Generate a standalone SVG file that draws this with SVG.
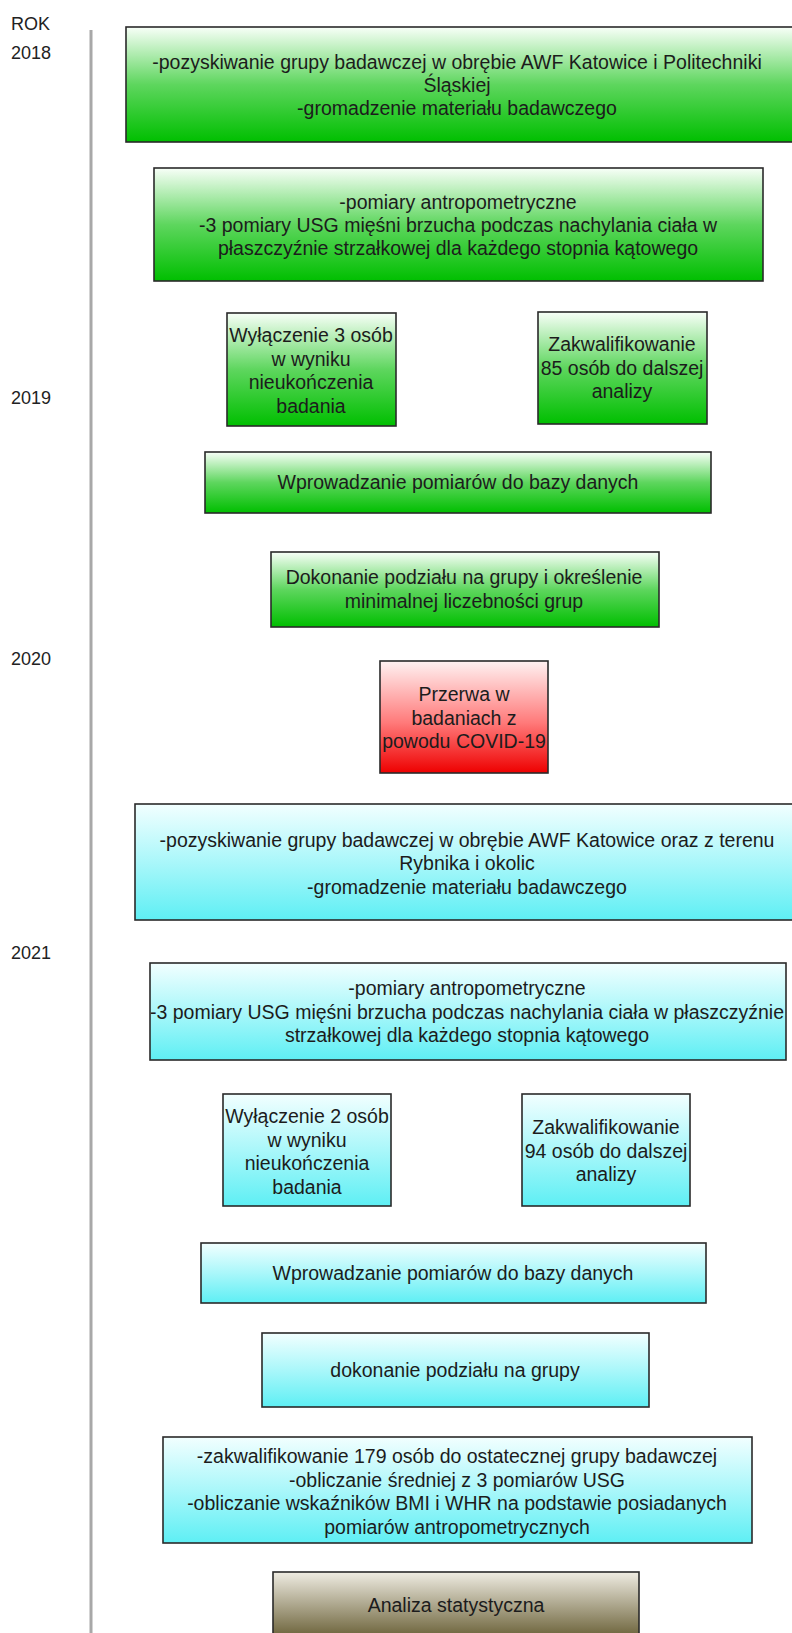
<svg xmlns="http://www.w3.org/2000/svg" width="792" height="1633" viewBox="0 0 792 1633">
<defs>
<linearGradient id="gGreen" x1="0" y1="0" x2="0" y2="1">
<stop offset="0" stop-color="#f8fff8"/><stop offset="0.5" stop-color="#5ed65e"/><stop offset="1" stop-color="#00bf00"/>
</linearGradient>
<linearGradient id="gRed" x1="0" y1="0" x2="0" y2="1">
<stop offset="0" stop-color="#fff2f2"/><stop offset="0.55" stop-color="#ff7a7a"/><stop offset="1" stop-color="#ee0000"/>
</linearGradient>
<linearGradient id="gCyan" x1="0" y1="0" x2="0" y2="1">
<stop offset="0" stop-color="#f2ffff"/><stop offset="0.5" stop-color="#aaf7fa"/><stop offset="1" stop-color="#5eeff4"/>
</linearGradient>
<linearGradient id="gOlive" x1="0" y1="0" x2="0" y2="1">
<stop offset="0" stop-color="#efece2"/><stop offset="1" stop-color="#5e5428"/>
</linearGradient>
<style>
rect.box{stroke:#2a2a2a;stroke-width:1.6}
.g{fill:url(#gGreen)} .r{fill:url(#gRed)} .c{fill:url(#gCyan)} .o{fill:url(#gOlive)}
text{font-family:"Liberation Sans",Arial,sans-serif;font-size:19.5px;fill:#1c1c1c;text-anchor:middle}
text.lbl{text-anchor:start;fill:#222;font-size:18px}
</style>
</defs>
<rect width="792" height="1633" fill="#ffffff"/>
<g id="timeline"><line x1="91" y1="30" x2="91" y2="1633" stroke="#a8a8a8" stroke-width="3"/></g>
<g id="labels">
<text class="lbl" x="11" y="30">ROK</text>
<text class="lbl" x="11" y="59">2018</text>
<text class="lbl" x="11" y="404">2019</text>
<text class="lbl" x="11" y="665">2020</text>
<text class="lbl" x="11" y="959">2021</text>
</g>
<g id="connectors"></g>
<g id="n1"><rect class="box g" x="126" y="27" width="672" height="115"/>
<text x="457" y="69">-pozyskiwanie grupy badawczej w obrębie AWF Katowice i Politechniki</text>
<text x="457" y="92">Śląskiej</text>
<text x="457" y="115">-gromadzenie materiału badawczego</text></g>
<g id="n2"><rect class="box g" x="154" y="168" width="609" height="113"/>
<text x="458" y="209">-pomiary antropometryczne</text>
<text x="458" y="232">-3 pomiary USG mięśni brzucha podczas nachylania ciała w</text>
<text x="458" y="255">płaszczyźnie strzałkowej dla każdego stopnia kątowego</text></g>
<g id="n3"><rect class="box g" x="227" y="313" width="169" height="113"/>
<text x="311" y="342">Wyłączenie 3 osób</text>
<text x="311" y="365.5">w wyniku</text>
<text x="311" y="389">nieukończenia</text>
<text x="311" y="412.5">badania</text></g>
<g id="n4"><rect class="box g" x="538" y="312" width="169" height="112"/>
<text x="622" y="351">Zakwalifikowanie</text>
<text x="622" y="375">85 osób do dalszej</text>
<text x="622" y="398">analizy</text></g>
<g id="n5"><rect class="box g" x="205" y="452" width="506" height="61"/>
<text x="458" y="489">Wprowadzanie pomiarów do bazy danych</text></g>
<g id="n6"><rect class="box g" x="271" y="552" width="388" height="75"/>
<text x="464" y="584">Dokonanie podziału na grupy i określenie</text>
<text x="464" y="607.5">minimalnej liczebności grup</text></g>
<g id="n7"><rect class="box r" x="380" y="661" width="168" height="112"/>
<text x="464" y="701">Przerwa w</text>
<text x="464" y="724.5">badaniach z</text>
<text x="464" y="748">powodu COVID-19</text></g>
<g id="n8"><rect class="box c" x="135" y="804" width="665" height="116"/>
<text x="467" y="846.5">-pozyskiwanie grupy badawczej w obrębie AWF Katowice oraz z terenu</text>
<text x="467" y="870">Rybnika i okolic</text>
<text x="467" y="893.5">-gromadzenie materiału badawczego</text></g>
<g id="n9"><rect class="box c" x="150" y="963" width="636" height="97"/>
<text x="467" y="995">-pomiary antropometryczne</text>
<text x="467" y="1018.5">-3 pomiary USG mięśni brzucha podczas nachylania ciała w płaszczyźnie</text>
<text x="467" y="1042">strzałkowej dla każdego stopnia kątowego</text></g>
<g id="n10"><rect class="box c" x="223" y="1094" width="168" height="112"/>
<text x="307" y="1123">Wyłączenie 2 osób</text>
<text x="307" y="1146.5">w wyniku</text>
<text x="307" y="1170">nieukończenia</text>
<text x="307" y="1193.5">badania</text></g>
<g id="n11"><rect class="box c" x="522" y="1094" width="168" height="112"/>
<text x="606" y="1134">Zakwalifikowanie</text>
<text x="606" y="1157.5">94 osób do dalszej</text>
<text x="606" y="1181">analizy</text></g>
<g id="n12"><rect class="box c" x="201" y="1243" width="505" height="60"/>
<text x="453" y="1280">Wprowadzanie pomiarów do bazy danych</text></g>
<g id="n13"><rect class="box c" x="262" y="1333" width="387" height="74"/>
<text x="455" y="1377">dokonanie podziału na grupy</text></g>
<g id="n14"><rect class="box c" x="163" y="1437" width="589" height="106"/>
<text x="457" y="1463">-zakwalifikowanie 179 osób do ostatecznej grupy badawczej</text>
<text x="457" y="1486.5">-obliczanie średniej z 3 pomiarów USG</text>
<text x="457" y="1510">-obliczanie wskaźników BMI i WHR na podstawie posiadanych</text>
<text x="457" y="1533.5">pomiarów antropometrycznych</text></g>
<g id="n15"><rect class="box o" x="273" y="1572" width="366" height="72"/>
<text x="456" y="1612">Analiza statystyczna</text></g>
</svg>
